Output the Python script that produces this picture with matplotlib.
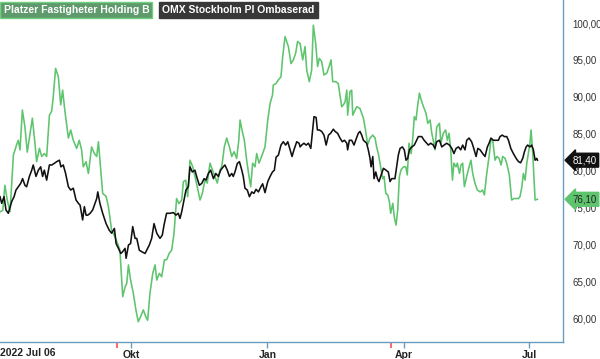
import matplotlib
matplotlib.use("Agg")
import matplotlib.pyplot as plt
from matplotlib.transforms import blended_transform_factory

plt.rcParams["font.family"] = ["Liberation Sans", "DejaVu Sans"]

# trading-day index since 2022-07-06
green_days = [0, 1.3, 2.3, 3.4, 4.7, 6.3, 7.8, 8.6, 9.4, 10.5, 11.7, 12.8, 14.1, 15.2, 16.4, 17.2,
              18.5, 19.6, 20.8, 21.9, 23.2, 24.3, 25.0, 26.1, 27.4, 28.5, 29.4, 30.5, 32.1, 33.2,
              34.4, 36.0, 37.2, 38.3, 39.1, 40.4, 41.5, 43.0, 44.3, 45.4, 46.2, 47.3, 48.2, 49.8,
              50.9, 52.4, 54.0, 55.2, 56.3, 57.6, 58.7, 59.5, 60.3, 61.3, 62.6, 63.8, 64.9, 66.0,
              67.3, 68.4, 69.3, 70.4, 71.7, 72.8, 73.6, 74.8, 75.9, 77.2, 78.2, 79.5, 80.6, 81.7,
              82.9, 84.0, 85.3, 86.1, 87.2, 88.1, 89.2, 90.5, 91.5, 92.6, 93.9, 95.0, 96.2, 97.3,
              98.6, 99.7, 100.9, 102.0, 103.3, 104.1, 105.3, 106.4, 107.7, 108.8, 109.9, 111.1,
              112.1, 112.7, 113.6, 114.7, 115.8, 116.9, 117.7, 118.6, 119.7, 120.5, 121.6, 123.3,
              124.4, 125.7, 126.8, 127.9, 128.3, 129.6, 130.7, 131.9, 132.7, 133.8, 135.4, 136.6,
              137.7, 138.8, 139.7,
              140.9, 142.1, 143.2, 144.0, 145.2, 146.3, 147.1, 148.2, 149.1, 149.9, 151.0, 152.1,
              153.4, 154.5, 155.4, 156.2, 157.6, 158.8, 159.6, 160.4, 161.2, 162.0, 162.8, 163.2,
              163.9, 164.3, 165.1, 165.6, 166.7, 167.5, 169.0, 170.6, 171.7, 172.6, 173.7, 175.0,
              176.1, 176.8, 177.6, 178.4, 178.9, 179.7, 180.3, 181.1, 182.0, 182.8, 183.4, 184.4,
              185.1, 185.9, 186.7, 187.5, 188.3, 189.4, 190.5, 191.2, 192.0, 193.0, 193.7, 194.5,
              195.3, 196.0, 196.9, 197.7, 198.8, 200.0, 200.8, 201.9, 202.7, 203.4, 204.2, 205.0,
              206.3, 207.0, 208.1, 209.2, 210.0, 210.8, 211.6, 212.4, 213.1, 214.1, 214.7, 215.7,
              216.4, 217.2, 218.0, 219.1, 220.2, 221.1, 221.9, 223.0, 224.1, 225.4, 226.5, 227.4,
              228.5, 229.6, 230.4, 231.3, 232.4, 233.2, 234.3, 235.2, 236.0, 237.1, 237.9, 239.1,
              240.2, 241.3, 242.3, 243.4, 244.1, 245.0, 245.7, 246.5, 247.3, 248.0, 248.8, 249.3,
              250.1, 251.2, 252.3]
green = [74.4, 74.6, 78.0, 76.0, 74.4, 82.1, 83.5, 84.1, 82.8, 88.2, 85.9, 82.5, 85.0, 87.1, 83.7, 81.2,
         83.0, 81.9, 82.3, 81.9, 87.5, 88.1, 90.0, 93.85, 92.7, 88.9, 90.9, 88.0, 84.4, 85.5,
         84.1, 83.0, 84.1, 82.8, 80.5, 81.2, 79.6, 83.2, 82.3, 81.9, 83.9, 80.1, 76.9, 76.5,
         75.1, 71.9, 71.0, 70.1, 69.2, 62.9, 64.2, 64.7, 67.2, 65.15, 63.35, 61.1, 59.5, 60.2,
         61.1, 60.2, 59.7, 63.35, 66.05, 67.2, 65.15, 66.05, 65.6, 67.9, 67.9, 68.8, 69.2, 71.5,
         76.2, 75.5, 76.0, 78.5, 78.7, 76.45, 81.4, 80.5, 79.2, 77.8, 76.0, 76.9, 78.7, 78.3,
         81.0, 80.1, 79.2, 78.3, 80.1, 80.5, 83.2, 84.4, 83.2, 81.9, 82.55, 81.65,
         84.1, 86.85, 85.5, 84.1, 81.4, 79.2, 77.8, 81.0, 80.5, 82.3, 81.0, 82.3,
         83.2, 86.85, 89.1, 90.2, 91.6, 91.8, 92.3, 92.7, 95.4, 98.15, 96.8, 94.5,
         95.0, 95.9, 97.5,
         97.2, 95.0, 96.8, 93.6, 92.05, 93.6, 99.7, 97.2, 94.1, 95.2, 94.8, 92.95,
         93.2, 94.1, 95.0, 92.05, 92.05, 91.8, 90.2, 88.65, 88.9, 89.3, 90.9, 87.5,
         89.6, 90.7, 90.9, 87.5, 88.2, 88.65, 88.4, 87.1, 85.3, 83.5, 84.4, 84.8,
         84.4, 83.2, 82.3, 81.0, 80.1, 78.9, 79.2, 76.9, 76.7, 75.8, 74.2, 75.55,
         73.7, 72.6, 74.6, 79.2, 80.1, 80.5, 80.5, 79.4, 83.7, 82.3, 84.1, 87.3,
         86.85, 88.65, 90.5, 89.6, 88.65, 87.75, 86.4, 86.85, 85.05, 84.1, 82.8, 85.9,
         86.4, 83.7, 85.05, 85.5, 84.1, 85.05, 82.8, 78.7, 81.0, 80.5, 81.0, 79.6,
         80.75, 81.0, 77.8, 79.2, 80.5, 81.4, 79.6, 78.25, 77.35, 77.1, 77.35, 76.7,
         79.6, 81.9, 84.1, 84.1, 81.4, 81.9, 81.65, 80.75, 81.9, 81.65, 80.95, 79.4,
         76.0, 76.2, 76.2, 76.2, 76.45, 77.8, 79.6, 78.7, 81.0, 82.3, 83.7, 85.5,
         82.3, 76.0, 76.1]

black_days = [0, 0.8, 1.9, 2.8, 3.9, 5.5, 6.6, 7.5, 8.6, 9.7, 10.6, 11.7, 12.5, 13.8, 14.9, 15.6,
              16.9, 18.0, 19.1, 20.0, 20.8, 21.9, 23.2, 24.3, 25.4, 26.6, 27.9, 28.6, 29.7, 30.8,
              32.1, 33.2, 34.4, 35.7, 36.8, 37.6, 38.8, 39.6, 40.4, 41.2, 42.3, 43.5, 44.6, 45.4,
              45.9, 46.9, 48.2, 49.8, 51.3, 52.4, 53.7, 54.5, 55.6, 56.7, 57.6, 58.7, 59.2, 60.3,
              61.3, 62.3, 63.4, 64.2, 65.4, 66.5, 68.1, 68.9, 70.1, 71.2, 72.3, 73.6, 75.1, 76.2,
              77.0, 78.2, 79.8, 81.4, 82.6, 83.7, 84.5, 85.3, 86.1, 87.3, 88.4, 89.2, 90.3, 91.5,
              92.6, 93.6, 94.7, 95.8, 96.7, 97.8, 98.9, 100.2, 101.3, 102.5, 103.6, 104.5, 105.6,
              106.7, 107.7, 108.8, 109.5, 110.3, 111.4, 112.4, 113.5, 114.2, 115.0, 116.1, 117.1,
              118.2, 119.2, 120.2, 121.3, 122.5, 123.3, 124.4, 125.7, 126.8, 127.9, 128.8, 129.6,
              130.7, 131.9, 133.0, 134.1, 135.1, 136.2, 137.1, 138.0, 139.3, 140.4,
              140.9, 141.6, 142.7, 143.7, 144.8, 145.9, 146.8, 147.4, 148.4, 149.0, 149.9, 151.0,
              152.1, 153.1, 154.2, 155.2, 156.5, 157.3, 158.5, 159.6, 160.7, 161.7, 162.8, 163.2,
              164.0, 165.1, 166.2, 167.1, 168.2, 169.0, 169.8, 170.6, 171.4, 172.1, 172.9, 173.7,
              174.2, 175.0, 175.6, 176.4, 177.2, 177.9, 178.7, 180.0, 181.2, 182.3, 183.1, 183.9,
              185.4, 186.2, 187.0, 187.8, 188.9, 189.8, 190.6, 191.4, 192.2, 193.3, 194.5, 195.6,
              196.4, 198.0, 199.1, 200.3, 201.1, 202.2, 203.4, 204.2, 205.0, 206.3, 207.4, 208.5,
              209.7, 211.0, 212.1, 213.1, 214.1, 215.2, 216.3, 217.2, 218.3, 219.1, 220.2, 221.4,
              222.2, 223.5, 224.3, 225.4, 226.6, 227.7, 228.8, 229.6, 230.5, 231.6, 232.9, 234.0,
              234.7, 235.8, 236.8, 237.9, 238.7, 239.8, 241.0, 242.3, 243.4, 244.4, 245.4, 246.2,
              247.0, 247.7, 248.8, 249.6, 250.4, 251.2, 252.0, 252.3]
black = [76.45, 75.55, 76.45, 74.65, 74.2, 75.8, 76.45, 77.35, 77.8, 78.25, 78.9, 78.0, 77.8, 79.2, 80.05, 80.75,
         79.2, 80.05, 80.5, 79.2, 80.05, 78.7, 80.75, 80.75, 80.95, 81.2, 81.4, 80.5, 80.75, 79.6,
         77.8, 77.35, 77.6, 76.0, 75.55, 75.3, 73.3, 75.1, 73.95, 73.95, 74.2, 74.65, 75.55, 76.2,
         77.1, 75.55, 74.2, 72.8, 71.9, 71.5, 72.15, 70.1, 69.45, 68.75, 69.0, 69.45, 68.1, 69.9,
         70.1, 72.4, 70.8, 70.8, 69.2, 69.0, 68.75, 69.2, 69.9, 70.8, 72.8, 71.5, 70.8, 71.25,
         72.6, 74.2, 74.2, 74.3, 73.95, 74.2, 73.5, 74.4, 75.55, 77.35, 77.8, 80.5, 79.8, 80.05,
         78.9, 78.0, 78.25, 78.9, 78.7, 79.6, 80.05, 78.9, 79.6, 79.2, 80.05, 80.4, 80.75,
         80.05, 79.2, 79.6, 79.2, 79.8, 80.95, 81.2, 80.05, 79.2, 77.6, 77.35, 76.45,
         77.1, 76.9, 77.45, 77.1, 77.8, 78.2, 77.0, 78.5, 79.2, 79.8, 80.05, 81.8,
         82.1, 83.45, 83.9, 83.45, 83.9, 82.8, 81.9, 82.8, 83.9, 83.7,
         83.2, 83.45, 83.7, 83.45, 83.7, 83.0, 85.5, 87.3, 87.2, 85.5, 85.5, 85.3,
         84.8, 83.45, 84.8, 85.05, 85.6, 85.3, 85.05, 84.4, 83.9, 84.1, 83.7, 82.8,
         84.1, 84.1, 83.45, 84.2, 85.05, 85.3, 84.8, 84.1, 83.9, 83.7, 82.8, 81.65,
         80.5, 81.9, 78.9, 79.8, 78.9, 78.5, 79.2, 80.3, 80.05, 79.8, 78.5, 78.9,
         78.9, 80.5, 82.1, 83.0, 83.2, 82.8, 81.4, 81.65, 82.8, 83.2, 83.45, 84.1,
         84.6, 84.6, 84.1, 83.7, 83.45, 83.7, 83.45, 83.0, 83.9, 84.1, 83.2, 83.45,
         83.7, 83.45, 83.0, 82.3, 83.0, 83.2, 82.8, 83.45, 82.8, 84.1, 84.4, 83.9,
         83.2, 81.9, 83.0, 82.8, 82.3, 81.9, 83.2, 83.7, 84.4, 84.1, 84.1, 84.1,
         84.6, 84.8, 84.6, 84.6, 84.1, 83.0, 82.3, 81.65, 81.2, 81.05, 81.65, 82.55,
         83.2, 83.45, 83.2, 83.45, 82.8, 81.4, 81.65, 81.4]

month_ticks = [61.5, 125.5, 189.5, 248.4]
month_labels = ["Okt", "Jan", "Apr", "Jul"]
event_ticks = [54.9, 183.6]
y_ticks = [60, 65, 70, 75, 80, 85, 90, 95, 100]

green_col = "#5ec46d"
spine_col = "#6a9cc0"

fig = plt.figure(figsize=(6, 3.59), dpi=100)
ax = fig.add_axes([0, 17 / 359, 563 / 600, 342 / 359])

ax.plot(green_days, green, color=green_col, lw=1.15)
ax.plot(black_days, black, color="#111111", lw=1.15)

ax.set_xlim(0, 264.3)
ax.set_ylim(56.75, 103.12)

for s in ["top", "left"]:
    ax.spines[s].set_visible(False)
for s in ["right", "bottom"]:
    ax.spines[s].set_color(spine_col)
    ax.spines[s].set_linewidth(1.0)

ax.yaxis.tick_right()
ax.set_yticks(y_ticks)
ax.set_yticklabels([f"{v:.2f}".replace(".", ",") for v in y_ticks])
ax.tick_params(axis="y", length=0, pad=7, labelsize=7, labelcolor="#333333")

ax.set_xticks(month_ticks)
ax.set_xticklabels(month_labels, fontweight="bold")
ax.tick_params(axis="x", length=4, width=1, color=spine_col, pad=2,
               labelsize=7.5, labelcolor="#222222")
ax.set_xticks(event_ticks, minor=True)
ax.tick_params(axis="x", which="minor", length=4, width=1.2, color="#ff4d4d")
ax.text(0, -0.018, "2022 Jul 06", transform=ax.transAxes, ha="left", va="top",
        fontsize=7.5, fontweight="bold", color="#222222")

# price tags at the right edge
tr = blended_transform_factory(ax.transAxes, ax.transData)
ax.text(1.017, black[-1], f"{black[-1]:.2f}".replace(".", ","), transform=tr,
        ha="left", va="center", fontsize=7, color="white", clip_on=False,
        bbox=dict(boxstyle="larrow,pad=0.2", fc="#111111", ec="#111111"))
ax.text(1.017, green[-1], f"{green[-1]:.2f}".replace(".", ","), transform=tr,
        ha="left", va="center", fontsize=7, color="#222222", clip_on=False,
        bbox=dict(boxstyle="larrow,pad=0.2", fc=green_col, ec=green_col))

# legend boxes
fig.text(0.006, 1 - 10 / 359, "Platzer Fastigheter Holding B", ha="left", va="center",
         fontsize=7.5, fontweight="bold", color="white",
         bbox=dict(boxstyle="square,pad=0.3", fc="#5f9a6c", ec="#6fd07e", lw=1))
fig.text(0.27, 1 - 10 / 359, "OMX Stockholm PI Ombaserad", ha="left", va="center",
         fontsize=7.5, fontweight="bold", color="white",
         bbox=dict(boxstyle="square,pad=0.3", fc="#383838", ec="#383838", lw=1))

fig.savefig("out.png", dpi=100)
